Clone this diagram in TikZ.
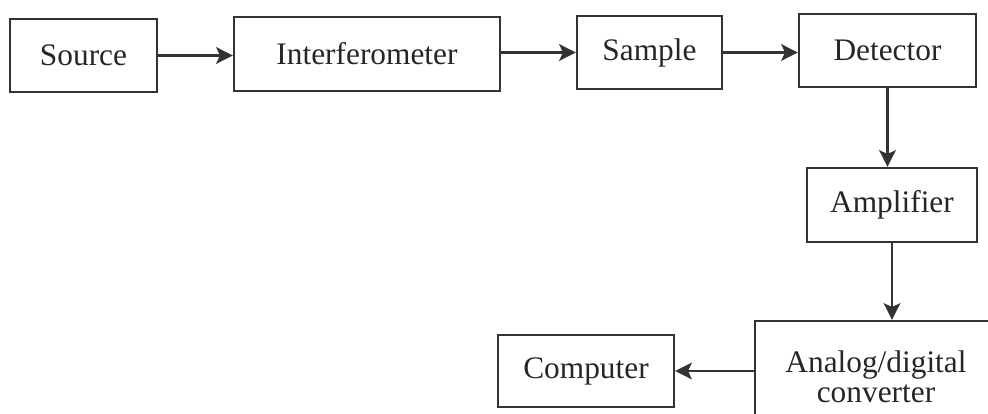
\documentclass[tikz,border=0pt]{standalone}
\usepackage{fontspec}
\setmainfont{Liberation Serif}
\usetikzlibrary{arrows.meta}
\begin{document}
\begin{tikzpicture}[
        block/.style={draw=black!80, line width=1.6pt, text=black!85, inner sep=0pt,
            font=\fontsize{22.3}{21}\selectfont, align=center},
        arr/.style={draw=black!80, line width=1.6pt, -{Stealth[length=0.42cm, width=0.42cm, inset=0.1cm]}}
    ]
        \useasboundingbox (0,0) rectangle (24.7,10.325);
        \clip (0,0) rectangle (24.7,10.325);
        \node [block, minimum width=3.675cm, minimum height=1.825cm] (src) at (2.0875,8.9375) {Source};
        \node [block, minimum width=6.65cm, minimum height=1.85cm] (ifm) at (9.175,8.975) {Interferometer};
        \node [block, minimum width=3.625cm, minimum height=1.825cm] (smp) at (16.2375,9.0125) {Sample};
        \node [block, minimum width=4.425cm, minimum height=1.825cm] (det) at (22.1875,9.0625) {Detector};
        \node [block, minimum width=4.25cm, minimum height=1.85cm] (amp) at (22.3,5.2) {Amplifier};
        \node [block, minimum width=6.05cm, minimum height=2.8cm] (adc) at (21.9,0.9) {Analog/digital\\converter};
        \node [block, minimum width=4.4cm, minimum height=1.8cm] (comp) at (14.65,1.05) {Computer};
        \draw [arr] (src.east) -- (src.east -| ifm.west);
        \draw [arr] (ifm.east |- smp.west) -- (smp.west);
        \draw [arr] (smp.east) -- (smp.east -| det.west);
        \draw [arr] (det.south) -- (det.south |- amp.north);
        \draw [arr] (amp.south) -- (amp.south |- adc.north);
        \draw [arr] (adc.west |- comp.east) -- (comp.east);
        \end{tikzpicture}
\end{document}
